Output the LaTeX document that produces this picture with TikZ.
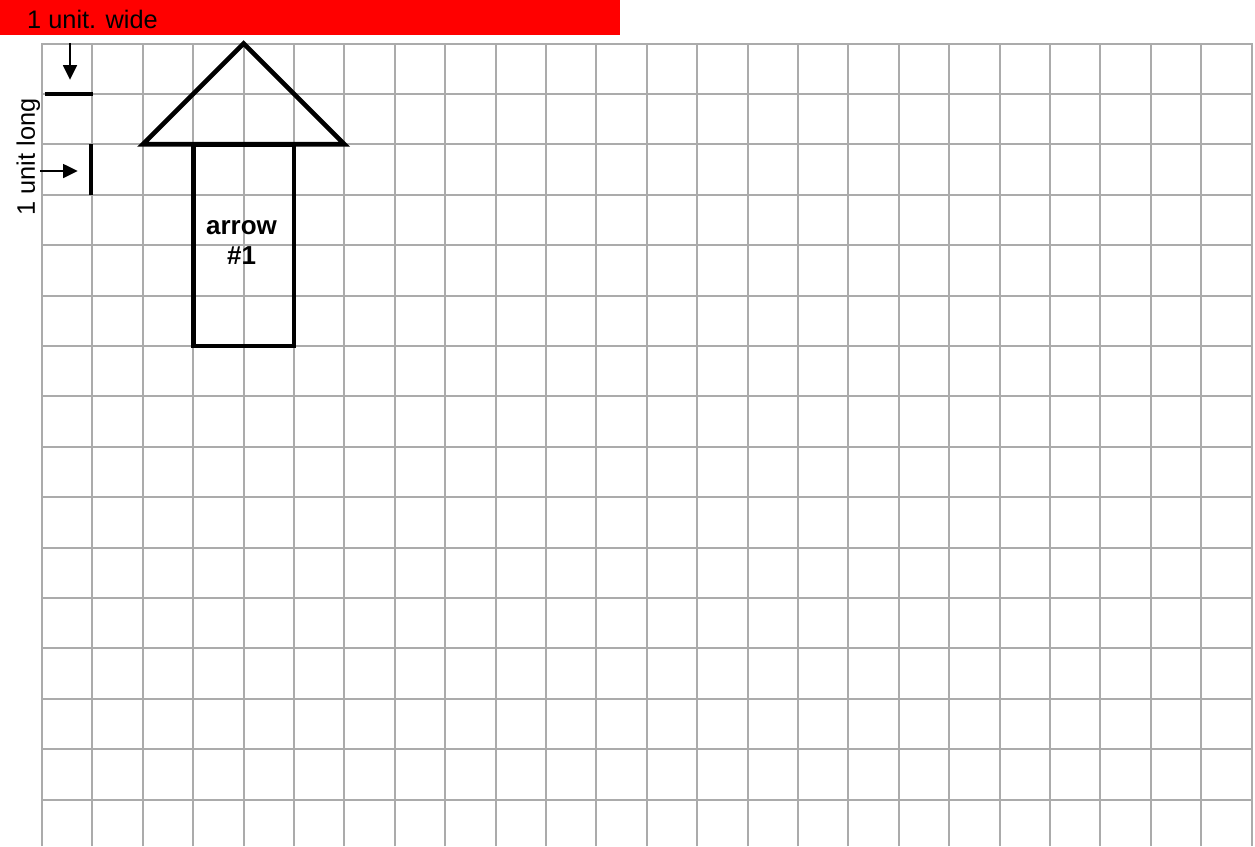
\documentclass[tikz,border=0pt]{standalone}
\usepackage{fontspec}
\setmainfont{Liberation Sans}
\usetikzlibrary{arrows.meta, positioning}

\begin{document}
\begin{tikzpicture}[x=37.8pt, y=-37.8pt,
    gridline/.style = {draw=black!33, line width=1.5pt, step=37.8pt},
    outline/.style = {draw=black, line width=3.5pt, line join=miter},
    pointer/.style = {-{Triangle[length=11pt, width=10.5pt]}, line width=1.1pt},
    caption/.style = {inner sep=0pt, font=\fontsize{19}{22}\selectfont}]

    \useasboundingbox (-0.833,-0.863) rectangle (24.067,15.923);

    % header bar
    \fill[red] (-0.833,-0.863) rectangle (11.468,-0.169);
    \node (wide) [caption, anchor=base west] at (-0.298,-0.288) {1 unit. wide};

    % paper
    \draw[gridline] (0,0) grid (24,15.923);

    % arrow #1
    \draw[outline] (4,0) -- (2,2) -- (6,2) -- cycle;
    \draw[outline] (3,2) rectangle (5,6);
    \node (arrow1) [align=center, font=\fontsize{19.5}{22.5}\selectfont\bfseries] at (3.96,3.95) {arrow\\\#1};

    % units
    \node (long) [caption, anchor=base, rotate=90] at (-0.14,2.25) {1 unit long};
    \coordinate (hbarL) at (0.05,1);
    \coordinate (hbarR) at (1.02,1);
    \coordinate (vbarT) at (0.97,2);
    \coordinate (vbarB) at (0.97,3);
    \coordinate (downfrom) at (0.556,0);
    \coordinate (downto) at (0.556,0.72);
    \coordinate (rightfrom) at (-0.04,2.53);
    \coordinate (rightto) at (0.71,2.53);
    \draw[outline, line cap=butt] (hbarL) -- (hbarR);
    \draw[outline, line cap=butt] (vbarT) -- (vbarB);
    \draw[pointer] (downfrom) -- (downto);
    \draw[pointer] (rightfrom) -- (rightto);

\end{tikzpicture}
\end{document}
